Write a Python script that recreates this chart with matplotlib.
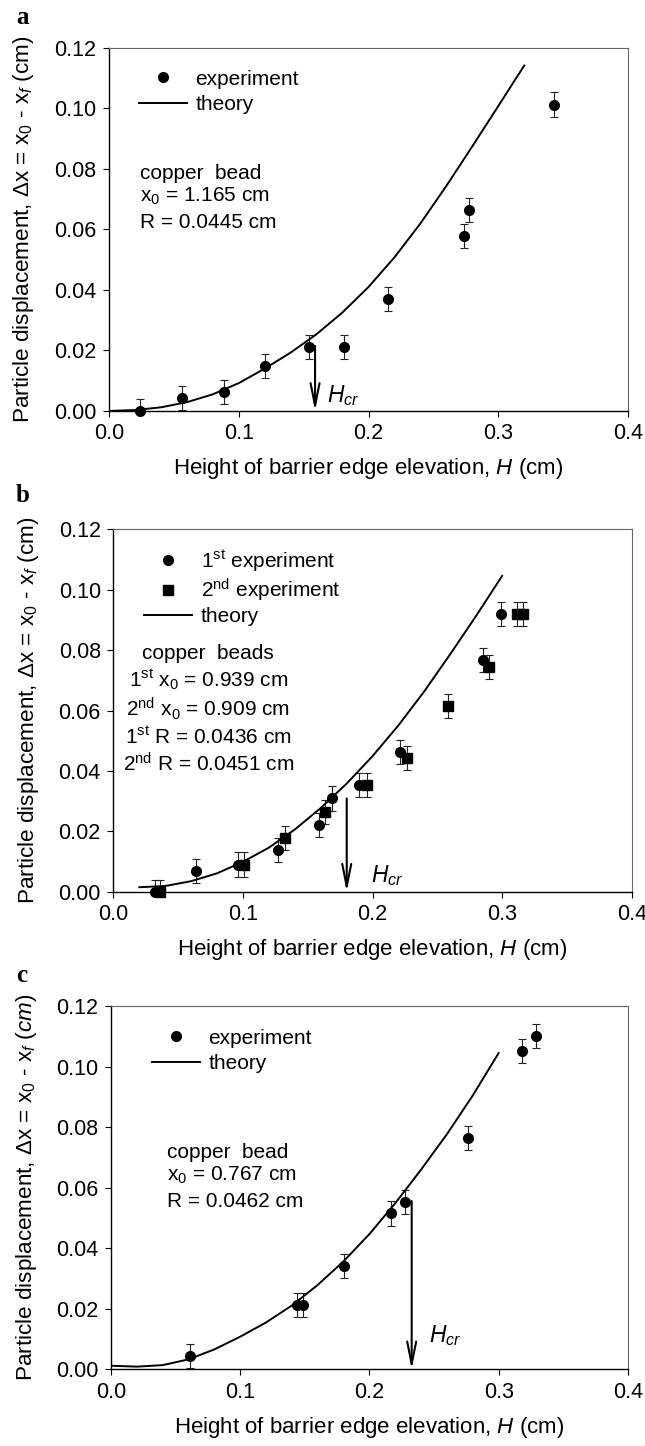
import matplotlib
matplotlib.use('Agg')
import matplotlib.pyplot as plt
from matplotlib.ticker import FormatStrFormatter

plt.rcParams['font.family'] = ['Liberation Sans', 'DejaVu Sans']
plt.rcParams['mathtext.fontset'] = 'custom'
plt.rcParams['mathtext.rm'] = 'Liberation Sans'
plt.rcParams['mathtext.it'] = 'Liberation Sans:italic'
plt.rcParams['mathtext.bf'] = 'Liberation Sans:bold'

# panel a: single copper bead
a_x = [0.024, 0.056, 0.089, 0.1205, 0.1542, 0.1812, 0.2148, 0.2737, 0.2778, 0.343]
a_y = [0.0000, 0.0042, 0.0062, 0.0148, 0.0212, 0.0212, 0.0369, 0.0578, 0.0664, 0.1013]
a_err = [0.004, 0.004, 0.004, 0.004, 0.004, 0.004, 0.004, 0.004, 0.004, 0.004]
a_th_x = [0.00, 0.02, 0.04, 0.06, 0.08, 0.10, 0.12, 0.14, 0.16, 0.18, 0.20, 0.22, 0.24, 0.26, 0.28, 0.30, 0.32]
a_th_y = [0.0000, 0.0003, 0.0012, 0.0029, 0.0055, 0.0092, 0.0140, 0.0193, 0.0254, 0.0326, 0.0410,
          0.0508, 0.0620, 0.0744, 0.0875, 0.1008, 0.1142]
a_hcr = 0.1588
a_hcr_top = 0.0215

# panel b: two experiments
b1_x = [0.0318, 0.0637, 0.0961, 0.1268, 0.1587, 0.1685, 0.1898, 0.2212, 0.285, 0.2989]
b1_y = [0.0000, 0.0070, 0.0090, 0.0138, 0.0221, 0.0309, 0.0353, 0.0464, 0.0767, 0.0919]
b1_err = [0.004, 0.004, 0.004, 0.004, 0.004, 0.004, 0.004, 0.004, 0.004, 0.004]
b2_x = [0.0362, 0.1005, 0.1321, 0.1633, 0.1955, 0.2269, 0.258, 0.2901, 0.3113, 0.3159]
b2_y = [0.0000, 0.0090, 0.0178, 0.0265, 0.0353, 0.0442, 0.0615, 0.0745, 0.0919, 0.0919]
b2_err = [0.004, 0.004, 0.004, 0.004, 0.004, 0.004, 0.004, 0.004, 0.004, 0.004]
b_th_x = [0.02, 0.04, 0.06, 0.08, 0.10, 0.12, 0.14, 0.16, 0.18, 0.20, 0.22, 0.24, 0.26, 0.28, 0.30]
b_th_y = [0.0015, 0.0019, 0.0035, 0.0061, 0.0099, 0.0146, 0.0206, 0.0277, 0.0358, 0.0449,
          0.0551, 0.0664, 0.0787, 0.0914, 0.1046]
b_hcr = 0.1801
b_hcr_top = 0.0309

# panel c
c_x = [0.0612, 0.1437, 0.1489, 0.1803, 0.2167, 0.2273, 0.2761, 0.3183, 0.3291]
c_y = [0.0044, 0.0212, 0.0212, 0.0342, 0.0515, 0.0553, 0.0764, 0.1052, 0.1102]
c_err = [0.004, 0.004, 0.004, 0.004, 0.004, 0.004, 0.004, 0.004, 0.004]
c_th_x = [0.00, 0.02, 0.04, 0.06, 0.08, 0.10, 0.12, 0.14, 0.16, 0.18, 0.20, 0.22, 0.24, 0.26, 0.28, 0.30]
c_th_y = [0.0012, 0.0009, 0.0014, 0.0033, 0.0066, 0.0108, 0.0155, 0.0211, 0.0279, 0.0357, 0.0447,
          0.0549, 0.0660, 0.0777, 0.0905, 0.1045]
c_hcr = 0.2327
c_hcr_top = 0.0556

xticks = [0.0, 0.1, 0.2, 0.3, 0.4]
yticks = [0.00, 0.02, 0.04, 0.06, 0.08, 0.10, 0.12]
xlabel = 'Height of barrier edge elevation, $\\it{H}$ (cm)'
ylabel = 'Particle displacement, \u0394x = x$_{\\it 0}$ - x$_{\\it f}$ (cm)'
ylabel_c = 'Particle displacement, \u0394x = x$_{\\it 0}$ - x$_{\\it f}$ $\\it (cm)$'

fig = plt.figure(figsize=(6.45, 14.46), dpi=100)
ax_a = fig.add_axes([0.169, 0.7158, 0.8047, 0.2510])
ax_b = fig.add_axes([0.1757, 0.3833, 0.8037, 0.2506])
ax_c = fig.add_axes([0.1721, 0.0530, 0.8013, 0.2512])

FS = 15


def style(ax, ylab):
    ax.set_xlim(0, 0.4)
    ax.set_ylim(0, 0.12)
    ax.set_xticks(xticks)
    ax.set_yticks(yticks)
    ax.xaxis.set_major_formatter(FormatStrFormatter('%.1f'))
    ax.yaxis.set_major_formatter(FormatStrFormatter('%.2f'))
    ax.tick_params(direction='out', length=4, width=0.8, labelsize=15.5, pad=5)
    for s in ['top', 'right']:
        ax.spines[s].set_color('#666666')
        ax.spines[s].set_linewidth(0.8)
    for s in ['left', 'bottom']:
        ax.spines[s].set_linewidth(1.0)
    ax.set_xlabel(xlabel, fontsize=16)
    ax.set_ylabel(ylab, fontsize=16.2)
    ax.xaxis.set_label_coords(0.5, -0.125)
    ax.yaxis.set_label_coords(-0.14, 0.5)


def hcr(ax, x, top, lx, ly):
    ax.annotate('', xy=(x, 0), xytext=(x, top),
                arrowprops=dict(arrowstyle='->,head_length=0.9,head_width=0.18',
                                lw=1.5, color='black', shrinkA=0, shrinkB=0,
                                mutation_scale=18))
    ax.text(lx, ly, '$H_{cr}$', fontsize=16.5, va='center', ha='left')


ebkw = dict(fmt='none', ecolor='#222222', elinewidth=0.8, capsize=3, capthick=0.8)
legkw = dict(loc='upper left', frameon=False, fontsize=FS, handlelength=2.3,
             handletextpad=0.4, borderaxespad=0, borderpad=0, numpoints=1)

# ---- a
style(ax_a, ylabel)
ax_a.errorbar(a_x, a_y, yerr=a_err, **ebkw)
ax_a.plot(a_x, a_y, 'o', color='black', ms=7, label='experiment', clip_on=False, zorder=3)
ax_a.plot(a_th_x, a_th_y, '-', color='black', lw=1.4, label='theory')
ax_a.legend(bbox_to_anchor=(0.058, 0.94), labelspacing=0.3, **legkw)
ax_a.text(0.024, 0.0786, 'copper  bead', fontsize=FS, va='center')
ax_a.text(0.024, 0.0709, 'x$_0$ = 1.165 cm', fontsize=FS, va='center')
ax_a.text(0.024, 0.0623, 'R = 0.0445 cm', fontsize=FS, va='center')
hcr(ax_a, a_hcr, a_hcr_top, 0.168, 0.0052)

# ---- b
style(ax_b, ylabel)
ax_b.errorbar(b1_x, b1_y, yerr=b1_err, **ebkw)
ax_b.errorbar(b2_x, b2_y, yerr=b2_err, **ebkw)
ax_b.plot(b1_x, b1_y, 'o', color='black', ms=7, label='1$^{\\rm st}$ experiment', clip_on=False, zorder=3)
ax_b.plot(b2_x, b2_y, 's', color='black', ms=6.5, label='2$^{\\rm nd}$ experiment', clip_on=False, zorder=3)
ax_b.plot(b_th_x, b_th_y, '-', color='black', lw=1.4, label='theory')
ax_b.legend(bbox_to_anchor=(0.06, 0.948), labelspacing=0.15, **legkw)
bx = 0.0733
ax_b.text(bx, 0.0789, 'copper  beads', fontsize=FS, va='center', ha='center')
ax_b.text(bx, 0.0701, '1$^{\\rm st}$ x$_0$ = 0.939 cm', fontsize=FS, va='center', ha='center')
ax_b.text(bx, 0.0607, '2$^{\\rm nd}$ x$_0$ = 0.909 cm', fontsize=FS, va='center', ha='center')
ax_b.text(bx, 0.0513, '1$^{\\rm st}$ R = 0.0436 cm', fontsize=FS, va='center', ha='center')
ax_b.text(bx, 0.0425, '2$^{\\rm nd}$ R = 0.0451 cm', fontsize=FS, va='center', ha='center')
hcr(ax_b, b_hcr, b_hcr_top, 0.199, 0.0055)

# ---- c
style(ax_c, ylabel_c)
ax_c.errorbar(c_x, c_y, yerr=c_err, **ebkw)
ax_c.plot(c_x, c_y, 'o', color='black', ms=7, label='experiment', clip_on=False, zorder=3)
ax_c.plot(c_th_x, c_th_y, '-', color='black', lw=1.4, label='theory')
ax_c.legend(bbox_to_anchor=(0.08, 0.938), labelspacing=0.3, **legkw)
ax_c.text(0.0431, 0.0718, 'copper  bead', fontsize=FS, va='center')
ax_c.text(0.0431, 0.0641, 'x$_0$ = 0.767 cm', fontsize=FS, va='center')
ax_c.text(0.0431, 0.0553, 'R = 0.0462 cm', fontsize=FS, va='center')
hcr(ax_c, c_hcr, c_hcr_top, 0.246, 0.0113)

# panel letters
for lab, ypx in [('a', 18), ('b', 495), ('c', 975)]:
    fig.text(16 / 645, 1 - ypx / 1446, lab, fontsize=18, fontweight='bold',
             family='Liberation Serif', va='center', ha='left')

fig.savefig('out.png', dpi=100)
